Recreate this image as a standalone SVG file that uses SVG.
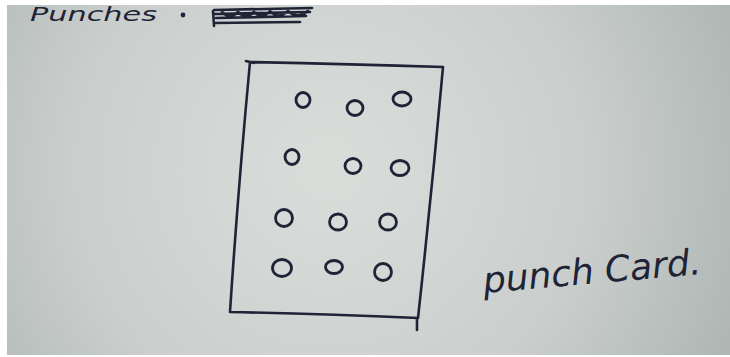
<svg xmlns="http://www.w3.org/2000/svg" width="730" height="357" viewBox="0 0 730 357">
<style>
.ink{fill:none;stroke:#1f2336;stroke-width:2.6;stroke-linecap:round;stroke-linejoin:round}
.hole{fill:none;stroke:#1f2336;stroke-width:2.8}
.hand{font-family:"DejaVu Sans","Liberation Sans",sans-serif;fill:#1f2336;font-style:italic}
</style>
<defs>
<radialGradient id="bg" cx="330" cy="170" r="470" gradientUnits="userSpaceOnUse">
<stop offset="0" stop-color="#dadedb"/>
<stop offset="0.55" stop-color="#cacfcd"/>
<stop offset="1" stop-color="#aab1b0"/>
</radialGradient>
</defs>
<rect width="730" height="357" fill="#ffffff"/>
<rect x="7" y="5" width="723" height="350" fill="url(#bg)"/>
<g id="heading">
<text class="hand" x="30" y="21" font-size="20" textLength="127" lengthAdjust="spacingAndGlyphs">Punches</text>
<circle cx="183" cy="15" r="2.4" fill="#1f2336"/>
<path class="ink" d="M214 10 L312 8 M214 14 L310 12 M216 18 L306 16 M213 11 L214 26 M222 12 Q230 20 238 12 Q246 20 254 12 Q262 20 270 11 Q278 20 288 11 Q298 20 308 11 M214 23 L300 22" stroke-width="2.2"/>
</g>
<g id="card">
<path class="ink" d="M250 62 Q350 64 443 67 Q432 190 418 318 Q320 314 230 312 Q238 190 250 62 M417 318 L417 330 M246 61 L254 63"/>
</g>
<g id="holes">
<ellipse class="hole" cx="303" cy="100" rx="7" ry="7.5" fill="#1f2336" fill-opacity="0.35"/>
<ellipse class="hole" cx="355" cy="108" rx="8" ry="7.5"/>
<ellipse class="hole" cx="402" cy="99" rx="9" ry="7"/>
<ellipse class="hole" cx="292" cy="157" rx="7" ry="7.5"/>
<ellipse class="hole" cx="353" cy="166" rx="8" ry="7.5"/>
<ellipse class="hole" cx="400" cy="168" rx="9" ry="7.5"/>
<ellipse class="hole" cx="284" cy="218" rx="8.5" ry="8.5"/>
<ellipse class="hole" cx="338" cy="222" rx="8.5" ry="8"/>
<ellipse class="hole" cx="388" cy="222" rx="8.5" ry="8"/>
<ellipse class="hole" cx="282" cy="268" rx="9.5" ry="8.5"/>
<ellipse class="hole" cx="334" cy="267" rx="8.5" ry="6.5"/>
<ellipse class="hole" cx="383" cy="272" rx="8.5" ry="8.5"/>
</g>
<g id="label">
<text class="hand" x="484" y="293" font-size="36" transform="rotate(-5 484 293)">punch Card.</text>
</g>
</svg>
